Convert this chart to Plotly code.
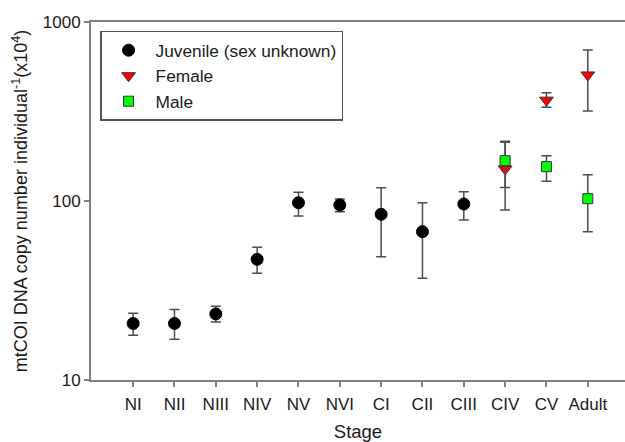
import plotly.graph_objects as go

stages = ["NI", "NII", "NIII", "NIV", "NV", "NVI", "CI", "CII", "CIII", "CIV", "CV", "Adult"]

juv_stages = ["NI", "NII", "NIII", "NIV", "NV", "NVI", "CI", "CII", "CIII"]
juv_mean = [20.7, 20.7, 23.4, 47.2, 97.8, 95.0, 84.3, 67.4, 96.2]
juv_hi = [23.6, 24.8, 25.8, 55.1, 112.0, 102.6, 118.7, 97.8, 112.7]
juv_lo = [17.8, 16.9, 21.1, 39.5, 82.4, 87.1, 48.8, 37.0, 78.3]

fem_stages = ["CIV", "CV", "Adult"]
fem_mean = [151, 366, 506]
fem_hi = [213, 403, 698]
fem_lo = [89, 334, 318]

male_stages = ["CIV", "CV", "Adult"]
male_mean = [168, 155.5, 103]
male_hi = [216, 179, 140]
male_lo = [119, 129, 67.4]

ERR_COLOR = "#4d4d4d"
AXIS_COLOR = "#7f7f7f"
FONT = "Liberation Sans, Arial, sans-serif"


def err(mean, hi, lo):
    return dict(type="data", symmetric=False,
                array=[h - m for h, m in zip(hi, mean)],
                arrayminus=[m - l for m, l in zip(mean, lo)],
                color=ERR_COLOR, thickness=1.5, width=5)


fig = go.Figure()
fig.add_trace(go.Scatter(
    x=juv_stages, y=juv_mean, mode="markers", name="Juvenile (sex unknown)",
    marker=dict(symbol="circle", size=12, color="black", line=dict(color="black", width=1)),
    error_y=err(juv_mean, juv_hi, juv_lo)))
fig.add_trace(go.Scatter(
    x=fem_stages, y=fem_mean, mode="markers", name="Female",
    marker=dict(symbol="triangle-down", size=12, color="#ff0000", line=dict(color="#333333", width=1)),
    error_y=err(fem_mean, fem_hi, fem_lo)))
fig.add_trace(go.Scatter(
    x=male_stages, y=male_mean, mode="markers", name="Male",
    marker=dict(symbol="square", size=10, color="#00ff00", line=dict(color="#333333", width=1)),
    error_y=err(male_mean, male_hi, male_lo)))

fig.update_layout(
    width=625, height=442, autosize=False,
    margin=dict(l=91, r=0, t=22, b=62),
    paper_bgcolor="white", plot_bgcolor="white",
    font=dict(family=FONT, size=17, color="#1a1a1a"),
    showlegend=True,
    legend=dict(x=0.017, y=0.975, xanchor="left", yanchor="top",
                bordercolor="#555555", borderwidth=1.5, bgcolor="white",
                font=dict(family=FONT, size=17.3), tracegroupgap=0, itemwidth=44),
)
fig.update_xaxes(
    type="category", categoryorder="array", categoryarray=stages,
    range=[-1.02, 11.9],
    showline=True, linecolor=AXIS_COLOR, linewidth=2, mirror=True,
    ticks="outside", ticklen=5, tickcolor=AXIS_COLOR, tickwidth=1.5,
    ticklabelstandoff=3, tickfont=dict(family=FONT, size=17),
    showgrid=False, zeroline=False,
    title=dict(text="Stage", standoff=12, font=dict(family=FONT, size=18.5)),
)
fig.update_yaxes(
    type="log", range=[1, 3],
    tickvals=[10, 100, 1000], ticktext=["10", "100", "1000"],
    showline=True, linecolor=AXIS_COLOR, linewidth=2, mirror=False,
    ticks="outside", ticklen=5, tickcolor=AXIS_COLOR, tickwidth=1.5,
    tickfont=dict(family=FONT, size=17),
    showgrid=False, zeroline=False,
    title=dict(text="mtCOI DNA copy number individual<sup>-1</sup>(x10<sup>4</sup>)",
               standoff=10, font=dict(family=FONT, size=18)),
)

fig.write_html("out.html")
